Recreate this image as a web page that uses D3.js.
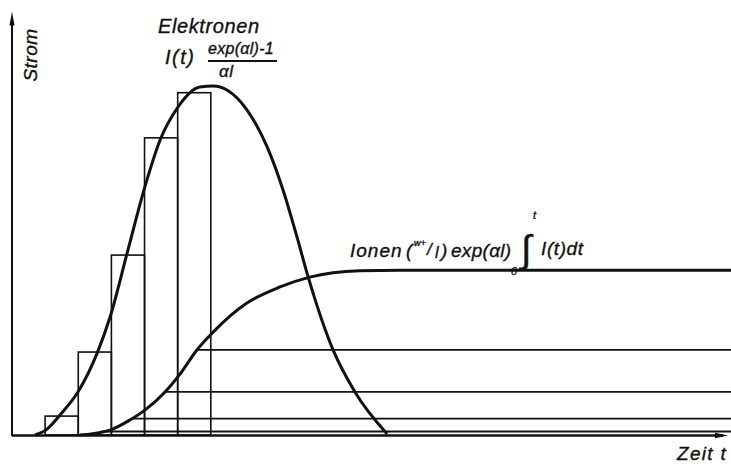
<!DOCTYPE html>
<html>
<head>
<meta charset="utf-8">
<script src="https://cdn.jsdelivr.net/npm/d3@7"></script>
<style>
  html, body { margin: 0; padding: 0; background: #fff; }
  svg { display: block; }
  text { font-family: 'Liberation Sans', Arial, sans-serif; font-style: italic; fill: #111; stroke: #111; stroke-width: 0.35; }
</style>
</head>
<body>
<svg id="chart" width="731" height="464"></svg>
<script>
// Time slices (each one unit wide) and the electron current in each slice
const barStart = [1, 2, 3, 4, 5];
const barValues = [0.54, 2.37, 5.14, 8.49, 9.78];

// Electron current curve I(t)·(exp(αl)−1)/(αl)
const elT = [0.7, 1.02, 1.5, 1.99, 2.57, 2.96, 3.5, 4.01, 4.47, 5.01, 5.67, 6.07, 6.5, 7.09, 7.7, 8.18, 8.6, 8.94, 9.69, 10.35, 11.32];
const elI = [0, 0.14, 0.63, 1.23, 2.34, 3.37, 5.29, 7.09, 8.43, 9.37, 9.94, 9.97, 9.85, 9.29, 8.23, 7.0, 5.66, 4.51, 2.43, 1.23, 0.03];

// Ion current curve (w+/l)·exp(αl)·∫I(t)dt
const ionT = [2.05, 2.96, 3.56, 4.01, 4.62, 5.07, 5.58, 6.07, 7.09, 8.09, 8.99, 10.5, 11.71, 21.7];
const ionI = [0, 0.14, 0.43, 0.71, 1.23, 1.74, 2.43, 2.94, 3.77, 4.23, 4.51, 4.69, 4.71, 4.71];

// Ion current levels contributed after the successive slices
const ionLevels = [0.1, 0.47, 1.23, 2.43];

const tMax = 21.7;   // right end of the drawn time range
const iMax = 12.1;   // top of the current axis

const svg = d3.select('#chart');
const x = d3.scaleLinear().domain([0, tMax]).range([12, 731]);
const y = d3.scaleLinear().domain([0, 10]).range([435, 85]);

// Slice rectangles
svg.append('g')
  .selectAll('rect')
  .data(barStart.map((s, i) => ({ s, v: barValues[i] })))
  .join('rect')
  .attr('x', d => x(d.s))
  .attr('y', d => y(d.v))
  .attr('width', d => x(d.s + 1) - x(d.s))
  .attr('height', d => y(0) - y(d.v))
  .attr('fill', 'none')
  .attr('stroke', '#111')
  .attr('stroke-width', 1.6);

// Where the ion curve reaches a given level (linear on the sampled curve)
function ionTimeAt(level) {
  for (let i = 1; i < ionT.length; i++) {
    if (ionI[i] >= level) {
      const f = (level - ionI[i - 1]) / (ionI[i] - ionI[i - 1]);
      return ionT[i - 1] + f * (ionT[i] - ionT[i - 1]);
    }
  }
  return ionT[ionT.length - 1];
}

// Horizontal ion-level lines
svg.append('g')
  .selectAll('line')
  .data(ionLevels)
  .join('line')
  .attr('x1', d => x(ionTimeAt(d)))
  .attr('x2', x(tMax))
  .attr('y1', d => y(d))
  .attr('y2', d => y(d))
  .attr('stroke', '#111')
  .attr('stroke-width', 1.8);

// Axes with arrow heads
const axes = svg.append('g').attr('stroke', '#111');
axes.append('line')
  .attr('x1', x(0)).attr('x2', x(0))
  .attr('y1', y(0) + 1).attr('y2', y(iMax) + 8)
  .attr('stroke-width', 2);
axes.append('line')
  .attr('x1', x(0)).attr('x2', x(tMax) - 8)
  .attr('y1', y(0) + 0.5).attr('y2', y(0) + 0.5)
  .attr('stroke-width', 2.6);
svg.append('path')
  .attr('d', `M${x(0)},${y(iMax)} L${x(0) - 2.6},${y(iMax) + 14} L${x(0) + 2.6},${y(iMax) + 14} Z`)
  .attr('fill', '#111');
svg.append('path')
  .attr('d', `M${x(tMax) - 3},${y(0) + 0.5} L${x(tMax) - 16},${y(0) - 2.3} L${x(tMax) - 16},${y(0) + 3.3} Z`)
  .attr('fill', '#111');

// Curves
const line = d3.line().x(d => x(d[0])).y(d => y(d[1])).curve(d3.curveMonotoneX);
svg.append('path')
  .attr('d', line(elT.map((t, i) => [t, elI[i]])))
  .attr('fill', 'none').attr('stroke', '#111').attr('stroke-width', 3);
svg.append('path')
  .attr('d', line(ionT.map((t, i) => [t, ionI[i]])))
  .attr('fill', 'none').attr('stroke', '#111').attr('stroke-width', 3);

// Axis titles
svg.append('text')
  .attr('transform', 'translate(37,55) rotate(-90)')
  .attr('text-anchor', 'middle')
  .attr('font-size', 19)
  .attr('letter-spacing', 0.5)
  .text('Strom');
svg.append('text')
  .attr('x', 677).attr('y', 460)
  .attr('font-size', 19)
  .attr('letter-spacing', 1.3)
  .text('Zeit t');

// Electron label and formula
svg.append('text')
  .attr('x', 158).attr('y', 33)
  .attr('font-size', 20)
  .attr('letter-spacing', 0.6)
  .text('Elektronen');
svg.append('text')
  .attr('x', 165).attr('y', 64)
  .attr('font-size', 20)
  .attr('letter-spacing', 1.5)
  .text('I(t)');
svg.append('text')
  .attr('x', 208).attr('y', 54)
  .attr('font-size', 16)
  .attr('letter-spacing', 0.3)
  .text('exp(αl)-1');
svg.append('line')
  .attr('x1', 208).attr('x2', 277)
  .attr('y1', 61).attr('y2', 61)
  .attr('stroke', '#111').attr('stroke-width', 2);
svg.append('text')
  .attr('x', 219).attr('y', 77)
  .attr('font-size', 17)
  .attr('letter-spacing', 0.5)
  .text('αl');

// Ion label and formula
svg.append('text').attr('x', 350).attr('y', 257).attr('font-size', 19).attr('letter-spacing', 1).text('Ionen');
svg.append('text').attr('x', 406).attr('y', 257).attr('font-size', 19).text('(');
svg.append('text').attr('x', 414).attr('y', 246).attr('font-size', 9).text('w+');
svg.append('text').attr('x', 427).attr('y', 255).attr('font-size', 17).text('/');
svg.append('text').attr('x', 435).attr('y', 258).attr('font-size', 16).text('l');
svg.append('text').attr('x', 441).attr('y', 257).attr('font-size', 19).text(')');
svg.append('text').attr('x', 451).attr('y', 257).attr('font-size', 19).attr('letter-spacing', 0.3).text('exp(αl)');
svg.append('text').attr('x', 521).attr('y', 262).attr('font-size', 38).text('∫');
svg.append('text').attr('x', 533).attr('y', 219).attr('font-size', 11).text('t');
svg.append('text').attr('x', 511).attr('y', 275).attr('font-size', 11).text('0');
svg.append('text').attr('x', 541).attr('y', 255).attr('font-size', 19).attr('letter-spacing', 0.6).text('I(t)dt');
</script>
</body>
</html>
